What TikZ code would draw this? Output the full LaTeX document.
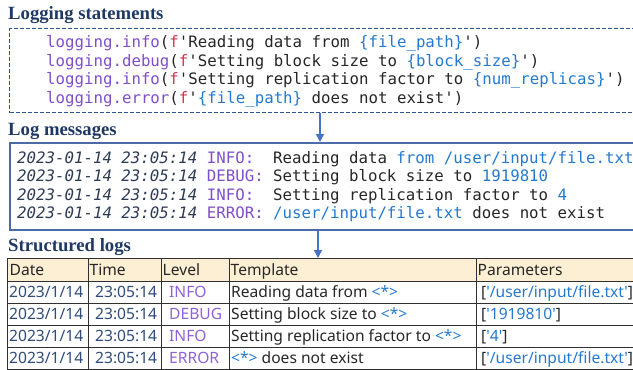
\documentclass[tikz,border=0pt]{standalone}
\usepackage{fontspec}
\setmainfont{Liberation Serif}
\newfontfamily\codefont{DejaVu Sans Mono}
\newfontfamily\tabfont{Noto Sans}
\usetikzlibrary{arrows.meta}
\definecolor{titlec}{HTML}{1F3864}
\definecolor{dashc}{HTML}{2F5597}
\definecolor{boxc}{HTML}{4A6BA5}
\definecolor{arrc}{HTML}{4472C4}
\definecolor{purp}{HTML}{7F4FC9}
\definecolor{lvl}{HTML}{8E62D6}
\definecolor{bluec}{HTML}{2479CF}
\definecolor{redf}{HTML}{D1364F}
\definecolor{txt}{HTML}{262626}
\definecolor{datec}{HTML}{2E3B55}
\definecolor{tabdate}{HTML}{2F4B7C}
\definecolor{headfill}{HTML}{FDEFD3}
\definecolor{gridc}{HTML}{303030}
\newcommand{\pu}[1]{\textcolor{purp}{#1}}
\newcommand{\bl}[1]{\textcolor{bluec}{#1}}
\newcommand{\rf}[1]{\textcolor{redf}{#1}}
\newcommand{\dt}{\textcolor{datec}{\itshape 2023-01-14 23:05:14}}
\begin{document}
\begin{tikzpicture}[x=1pt,y=-1pt,
  titlenode/.style={anchor=base west,inner sep=0pt,font=\fontsize{18.7}{20}\selectfont\bfseries,text=titlec},
  codeline/.style={anchor=base west,inner sep=0pt,font=\codefont\fontsize{15.75}{18}\selectfont\frenchspacing,text=txt},
  cell/.style={anchor=base west,inner sep=0pt,font=\tabfont\fontsize{15.6}{18}\selectfont,text=txt},
  arr/.style={draw=arrc,line width=1.3pt,-{Triangle[length=8pt,width=8pt]}}]
\useasboundingbox (0,0) rectangle (633,370);
% titles
\node[titlenode] (t1) at (8,19) {Logging statements};
\node[titlenode] (t2) at (8,135.5) {Log messages};
\node[titlenode] (t3) at (8,251.5) {Structured logs};
% statement box
\node[draw=dashc,line width=1.3pt,dash pattern=on 4pt off 2pt,anchor=north west,inner sep=0pt,minimum width=640pt,minimum height=84pt] (stmt) at (9,28) {};
\node[codeline] (c1) at (46,47) {\pu{logging.info}(\rf{f}'Reading data from \bl{\{file\_path\}}')};
\node[codeline] (c2) at (46,66) {\pu{logging.debug}(\rf{f}'Setting block size to \bl{\{block\_size\}}')};
\node[codeline] (c3) at (46,84.5) {\pu{logging.info}(\rf{f}'Setting replication factor to \bl{\{num\_replicas\}}')};
\node[codeline] (c4) at (46,103) {\pu{logging.error}(\rf{f}'\bl{\{file\_path\}} does not exist')};
% log box
\node[draw=boxc,line width=1.5pt,anchor=north west,inner sep=0pt,minimum width=640pt,minimum height=87pt] (logb) at (9,142) {};
\node[codeline] (m1) at (17,163) {\dt{} \pu{INFO:}\ \ Reading data \bl{from /user/input/file.txt}};
\node[codeline] (m2) at (17,181.5) {\dt{} \pu{DEBUG:} Setting block size to \bl{1919810}};
\node[codeline] (m3) at (17,200) {\dt{} \pu{INFO:}\ \ Setting replication factor to \bl{4}};
\node[codeline] (m4) at (17,218.5) {\dt{} \pu{ERROR:} \bl{/user/input/file.txt} does not exist};
% table
\fill[headfill] (7,258) rectangle (645,281);
\node[draw=gridc,line width=0.9pt,anchor=north west,inner sep=0pt,minimum width=640pt,minimum height=111pt] (tab) at (7,258) {};
\foreach \yy in {281,303,325.5,347.5}{\draw[gridc,line width=0.9pt] (7,\yy) -- (645,\yy);}
\foreach \xx in {88,161,229,476}{\draw[gridc,line width=0.9pt] (\xx,258) -- (\xx,369);}
\node[cell] (h1) at (9.5,275.5) {Date};
\node[cell] (h2) at (89.5,275.5) {Time};
\node[cell] (h3) at (162.5,275.5) {Level};
\node[cell] (h4) at (230.5,275.5) {Template};
\node[cell] (h5) at (477.5,275.5) {Parameters};
\foreach \yy/\lv/\tp/\pa [count=\i] in {
  297.5/INFO/{Reading data from \bl{<*>}}/{[\bl{'/user/input/file.txt'}]},
  319.5/DEBUG/{Setting block size to \bl{<*>}}/{[\bl{'1919810'}]},
  341.5/INFO/{Setting replication factor to \bl{<*>}}/{[\bl{'4'}]},
  363.5/ERROR/{\bl{<*>} does not exist}/{[\bl{'/user/input/file.txt'}]}}{
  \node[cell,text=tabdate] (d\i) at (9,\yy) {2023/1/14};
  \node[cell,text=tabdate] (ti\i) at (95,\yy) {23:05:14};
  \node[cell,text=lvl] (l\i) at (169,\yy) {\lv};
  \node[cell] (tp\i) at (231,\yy) {\tp};
  \node[cell] (pa\i) at (481,\yy) {\pa};
}
% arrows
\coordinate (ax1) at (320,0);
\coordinate (ax2) at (318,0);
\draw[arr] (stmt.south west -| ax1) -- (logb.north west -| ax1);
\draw[arr] (logb.south west -| ax2) -- (tab.north west -| ax2);
\end{tikzpicture}
\end{document}
